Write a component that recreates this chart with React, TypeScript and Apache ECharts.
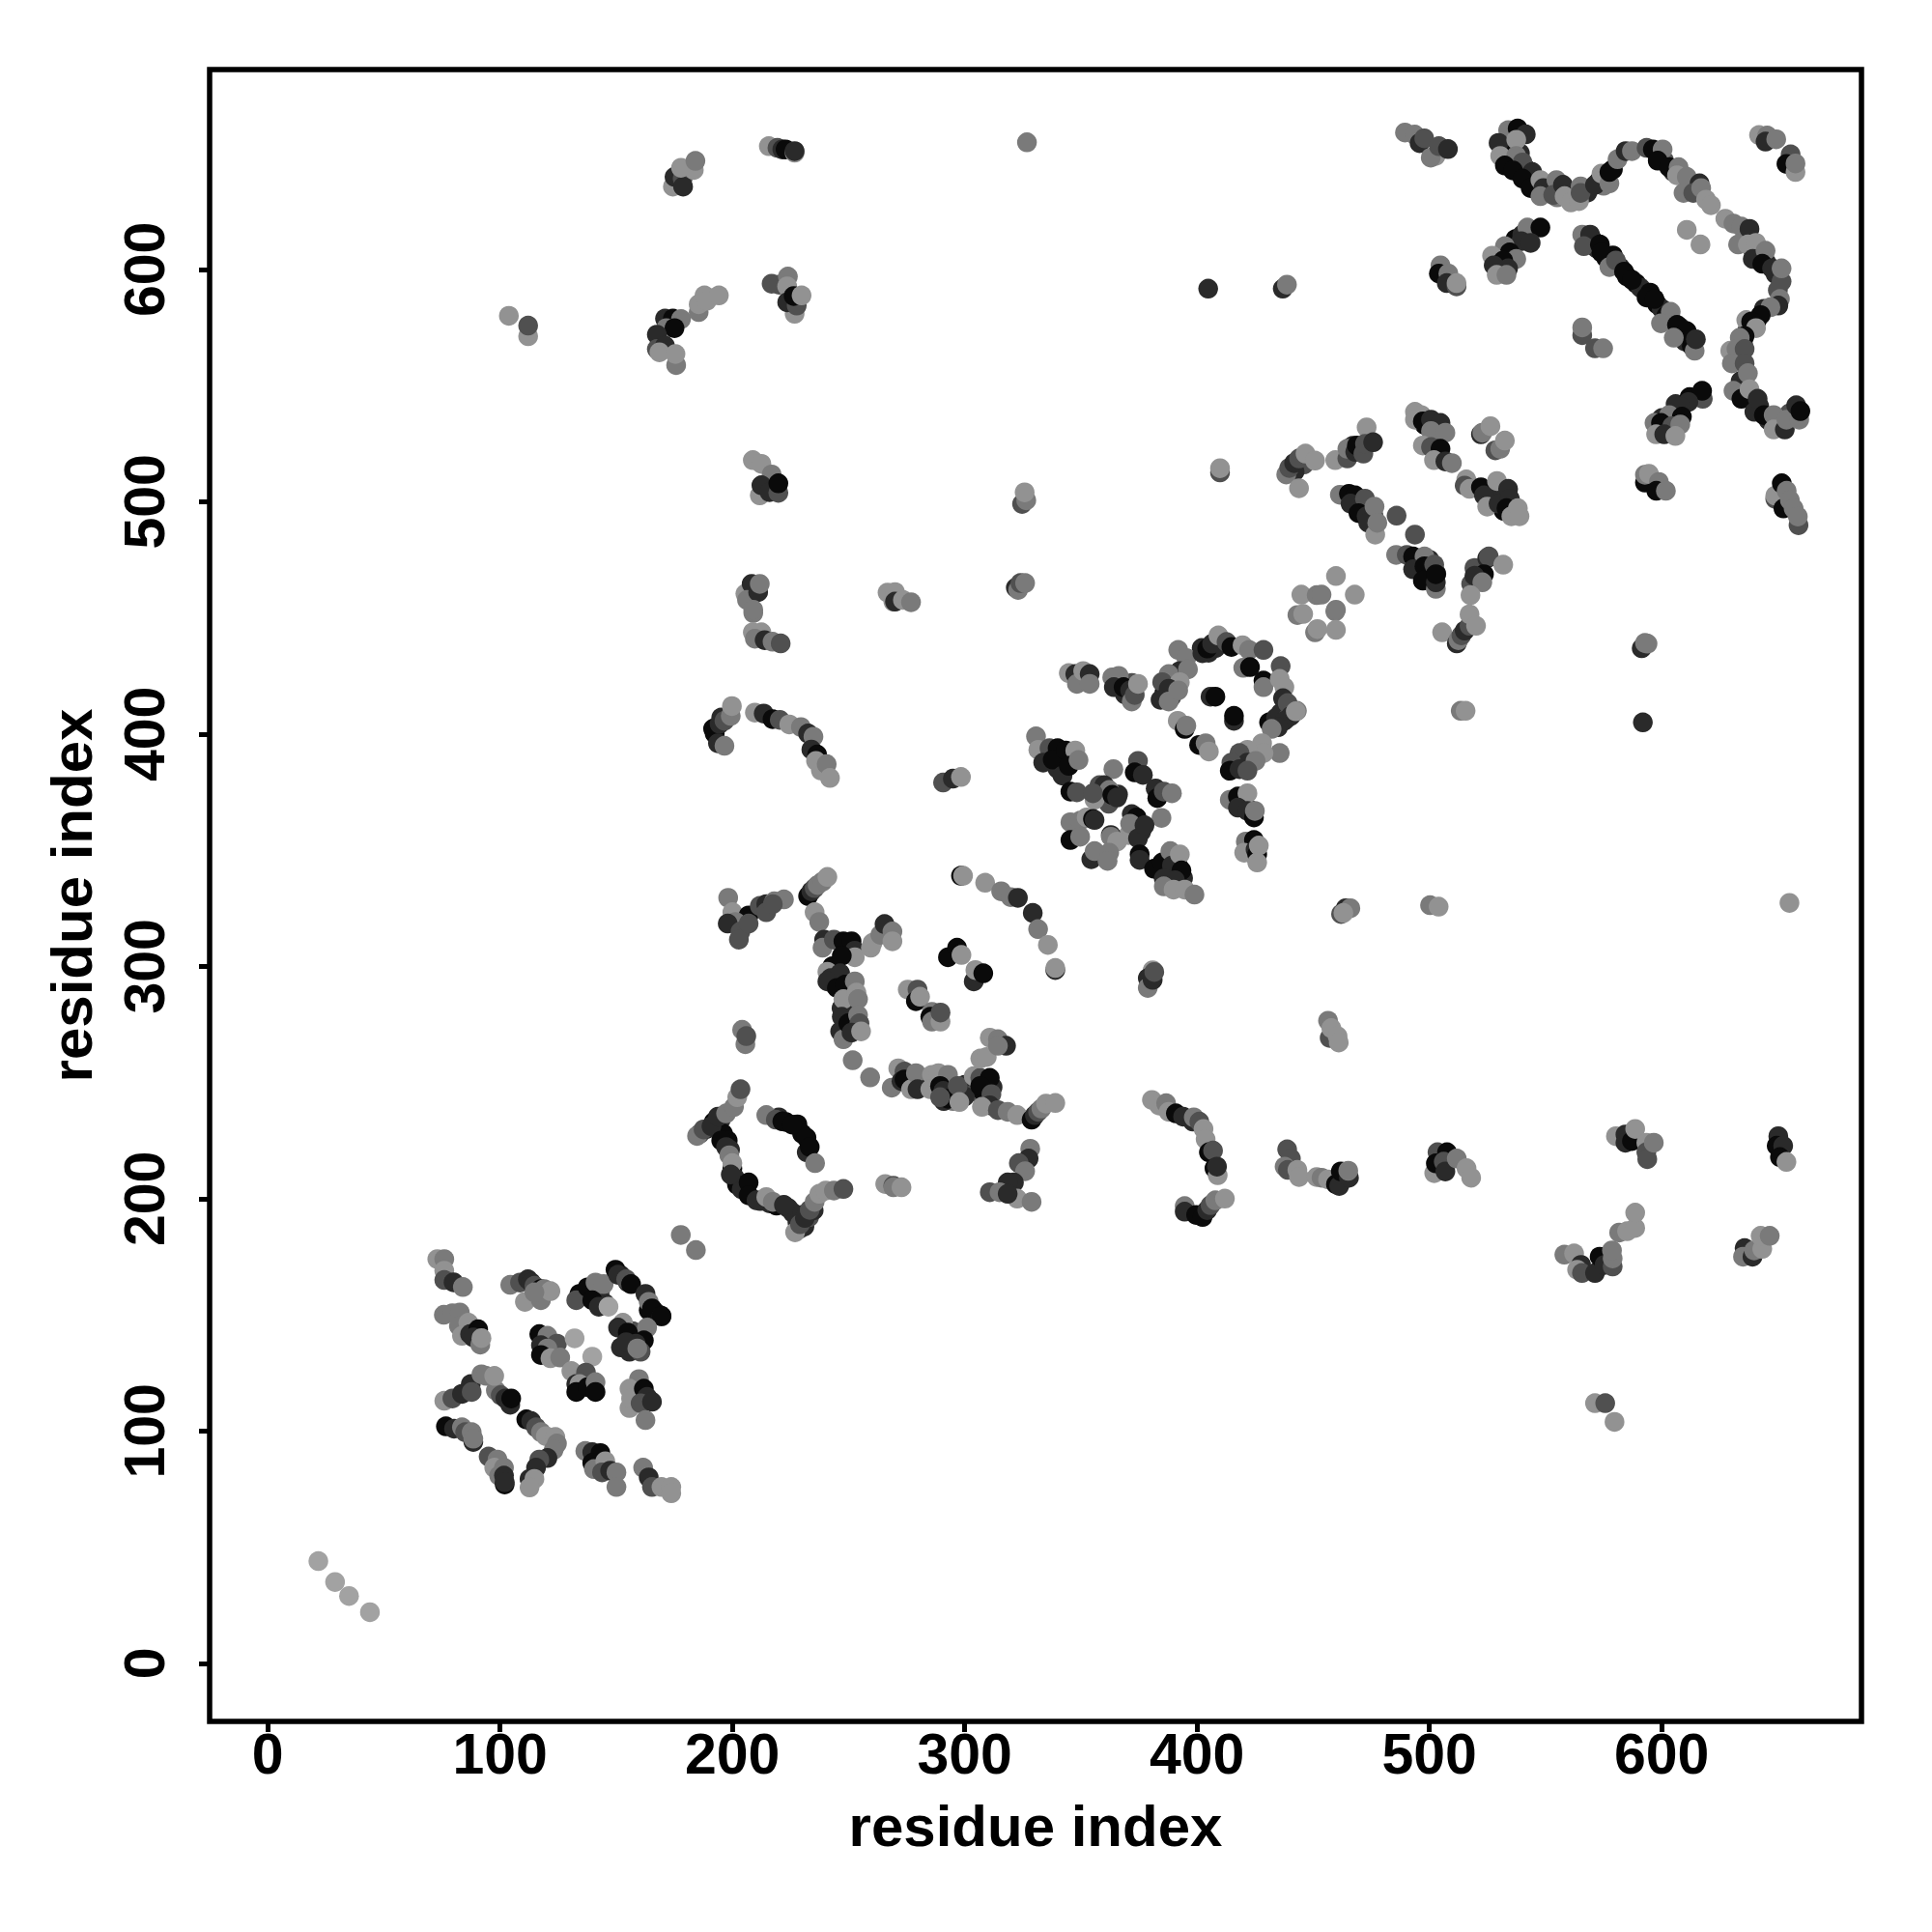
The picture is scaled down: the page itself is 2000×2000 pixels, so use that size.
import React, { useEffect, useRef } from "react";
import * as echarts from "echarts";

type P = number[];
const tickValues = [0, 100, 200, 300, 400, 500, 600];
const axisTitle = "residue index";
const grays = ["#0a0a0a", "#2a2a2a", "#505050", "#7a7a7a", "#929292", "#a2a2a2"];

const fillChains: P[] = [[570,613,0],[572,609,1],[576,605,0],[579,606,0],[582,601,1],[585,597,0],[589,594,0],[591,592,1],[595,590,0],[598,585,0],[600,583,1],[602,580,0],[604,578,0],[608,575,1],[612,570,0],[610,569,1],[613,567,0],
[535,652,0],[539,650,1],[541,644,0],[543,640,1],[546,637,2],[551,634,2],[555,631,3],[562,633,4],[568,633,1],[573,638,0],[575,636,3],[579,643,0],[598,650,1],[601,647,2],[605,642,1],[612,636,2],[615,634,3],
[636,613,2],[639,609,1],[642,606,0],[645,603,1],[649,598,1],[650,591,2],[644,583,1],[641,578,0],[637,574,1],[635,568,1],[632,562,2],[634,552,1],[636,546,0],[639,544,0],[642,541,1],[646,535,1],[650,534,1],[655,538,2],[658,537,1],
[186,228,2],[189,230,1],[192,233,0],[195,234,1],[196,228,0],[198,225,0],[199,221,1],[200,213,0],[201,209,1],[202,206,0],[204,204,1],[212,199,1],[216,198,1],[219,197,0],[224,196,1],[226,194,1],[228,190,1],[229,187,2],[231,188,1],[233,192,2],[235,195,1],[230,193,1],[223,233,0],[228,232,0],[230,228,0],[232,220,1],[220,235,1],
[243,300,0],[245,296,1],[247,293,0],[244,292,2],[247,282,1],[249,281,1],[250,273,0],[252,277,2],
[275,250,1],[277,252,0],[280,250,2],[283,249,1],[286,250,1],[292,250,1],[295,246,1],[300,249,1],[305,246,2],[308,246,0],[312,248,1],[300,244,1],[295,242,3],[291,242,1],
[136,158,1],[139,159,0],[143,160,2],[145,155,1],[152,167,1],[155,164,1],[164,152,0],[167,151,1],[156,140,0],[158,135,1],[152,136,1],[159,140,1],[157,143,2],
[336,391,0],[341,390,0],[346,390,1],[340,385,1],[343,388,2],[358,378,2],[361,373,1],[366,374,1],[362,370,2],[386,342,1],[390,340,0],[391,345,1],[394,338,1],[387,336,1],[392,343,0],[385,340,1],[373,362,1],[376,358,1],
[402,437,1],[405,435,1],[408,437,1],[431,405,0],[434,407,1],[436,409,1],[439,407,2],[443,410,3],[416,386,0],[419,386,1],[416,372,1],[419,369,0],[422,368,1],[424,352,0],[423,349,1],[372,422,2],[369,417,1],[386,418,0],[389,421,1],[389,416,2],
[467,500,0],[470,498,1],[472,495,0],[476,494,2],[495,474,0],[499,470,1],[501,467,0],[503,469,1],[500,475,1],[498,533,0],[503,533,1],[502,528,2],[525,505,1],[531,503,1],[533,499,1],[532,496,0],[535,500,1],[446,516,2],[442,513,1],[467,524,1],[470,522,0],
[531,606,1],[535,609,1],[537,613,0],[540,615,1],[606,542,1],[612,545,0],[600,536,1],[603,530,2],[600,531,1]];
const tail: P[] = [[21.8,44,5],[29,35,5],[35,29,5],[44,22,5]];
const blockA: P[] = [[73,174,4],[76,174,3],[76,169,4],[76,165,2],[80,164,1],[84,162,3],
[75.8,150,3],[79.5,150.7,3],[82.7,151,3],[82.3,145.2,3],[86.4,146.6,4],[83.6,141,4],[87.1,141.7,1],[90.6,143.8,0],[88.5,140.3,1],[91.5,137.2,3],[92,140,4],
[76,113,4],[79.5,114,2],[83.6,116,1],[87.4,120.2,1],[87.8,116.8,2],[92,124.4,3],[94,123.7,3],[98.2,117.5,3],[97.5,123.7,4],[100.3,115.4,2],[102.3,114,1],[104.4,111.3,1],[104.8,114,0],
[76.7,102,0],[80.2,101,1],[83.6,101.6,3],[85,99.5,2],[88.5,95.3,1],[87.8,99.5,3],[88.5,96.7,3],
[95.1,89,2],[98.9,87.7,3],[97.5,84.2,4],[101.7,84.2,3],[99.6,80.8,3],[102,77,0],[101.7,80.8,1],[102,78,1]];
const blockB: P[] = [[111.3,105,0],[113.4,104.3,1],[115.5,101.6,2],[117.6,99.5,3],[119.7,97.8,4],[123.8,97.4,4],[124.5,94.6,3],[123.1,91.9,3],[120.4,88.4,1],[116.9,87.7,2],[115.5,84.2,1],[112.7,79.4,1],[114.8,79.4,4],[112.7,75.7,4],
[136.7,91.4,3],[139.7,90.9,1],[143.2,90.5,0],[139.7,86.3,0],[140.4,83.6,3],[145.3,87,4],[143.9,82.2,2],[147.4,82.9,1],[150.1,82.2,3],[150.1,75.9,3],
[161.6,84.2,3],[164,80,1],[165.4,75.9,2],[169.5,75.9,4],[173.7,75.9,4],[173.7,73.2,4]];
const blockC: P[] = [[104.4,162.9,3],[108.6,163.9,2],[112,165.3,1],[113.4,163.9,1],[110.7,155.6,4],[114.8,162.5,2],[117.6,161.1,0],[117.6,156.3,3],[119,161.1,3],[121.7,160.2,4],[114.8,159.7,3],
[134.2,159,0],[132.8,156.3,2],[137.7,161.8,0],[141.1,163.9,3],[139.7,156.3,0],[144.6,163.2,3],[142.5,153.5,1],[146.7,153.5,5],
[149.7,169.4,0],[150.8,167.3,1],[154.3,165.3,2],[156.4,163.2,0],[162.6,159,1],[164,155.6,3],[165.4,152.8,0],[169.5,149.3,1],[169.5,149.6,0],
[152.9,146.6,4],[150.8,144.5,1],[155,142.4,0],[163.3,144.5,3],[161.9,139,0],[158.4,137.6,1],[155.7,134.1,1],[160.5,134.1,2],[154.3,138.2,1],[159.1,135.5,3]];
const blockD: P[] = [[116.9,141.7,0],[120.4,141,3],[124.5,137.6,2],[117.6,136.9,1],[120.4,135.5,3],[117.6,132.7,0],[121.7,131.3,4],[125.9,131.6,3],[132.1,139.9,5],[139.7,132,5],
[130.7,125.8,4],[132.8,120.2,1],[137,125.1,2],[134.2,120.2,4],[132.8,116.8,0],[137.7,118.9,0],[141.1,121,3],[141.1,116.8,0],
[159.8,122.3,3],[155.7,118.2,4],[155.7,109.9,4],[156.4,114,4],[161.9,118.2,0],[163.3,114.7,1],[160.5,111.9,2],[165.4,112.6,1],[162.6,104.7,3],
[177.8,184.4,3],[184.3,177.9,3]];
const ringE: P[] = [[184.8,227,3],[187.6,229.8,2],[191,231.2,1],[193.8,235.3,1],[197.3,236.7,3],[200.7,239.5,3],[202.1,243.7,4],[203.5,247.1,2],[195.2,225,0],[197.3,222.2,1],[198.7,218.7,3],[200,215.3,4],[207,207,0],[199.3,210.4,1],
[207,201.4,0],[210.4,199.3,1],[214.6,200.7,4],[217.4,198.6,3],[222.2,197.3,1],[227,185.5,4],[229.1,189,2],[231.2,191.7,1],[233.3,195.2,2],[235.4,198.6,3],[237.4,202.1,4],[240.2,203.5,4],[243.7,203.5,3],[247.8,204.2,2],
[214.6,236,3],[218.7,234,2],[221.5,233.3,0],[225.7,231.9,0],[231.9,226.3,0],[233.3,222.2,0],[235.6,215.3,3]];
const blockF: P[] = [[198.2,329.5,3],[200,323.3,4],[207,321.9,0],[201.4,319.1,3],[198,318.4,1],[203.5,315,2],[202.8,311.5,2],[207,318.4,2],[211.8,326,2],[214.6,326.8,1],[214.6,323.3,2],[218,328,3],[222.2,328.8,3],[217.4,326.8,2],
[232.6,330.2,0],[234,332.3,1],[235.4,333.7,2],[236.7,335,3],[238.8,336.5,3],[240.9,338.5,4],
[235.4,323.3,4],[237.4,319.1,3],[239.5,311.5,1],[238.8,308,3],[243.7,311.5,2],[247.8,310.8,0],[251.3,310.8,0],[252.7,306.7,1],[252.7,303.9,4],[247.1,304.6,0],
[240.9,297.7,4],[242.3,294.9,1],[246.4,297,1],[240.9,293.5,1],[245,290.7,0],[248.5,292.1,0],[252.7,293.5,3],[247.8,285.9,4],[253.4,288.7,4],[254.1,285.9,3],
[247.1,278.3,1],[246.4,272,1],[247.8,268.6,3],[249.9,275.5,0],[254.1,279,3],[254.7,275.5,2],[251.3,271.5,1],[255.4,272,4],
[259.6,308,4],[260.3,310.1,4],[263.7,313.6,3],[265.5,318.2,1],[268.9,315,3],[268.9,310.8,4],
[251.8,259.6,3],[259.3,252.2,3],[204.2,272.7,3],[205.6,266.5,3],[206,270,2]];
const bandG: P[] = [[268.6,247.8,3],[271.4,256.1,4],[274.1,254.7,2],[272.8,250.6,1],[274.1,251.3,0],[276.9,247.1,4],[279,254,3],[279.7,247.1,1],[285.9,253.3,4],[288.7,254,4],[292.8,253.3,3],[285.2,247.1,4],[289.4,248.5,0],[290.8,246.4,1],[292.8,243,0],[289.4,243.7,2],[297,248.5,2],[297.7,241.6,4],
[303.9,252.7,4],[306.7,252,2],[310.8,252,0],[306.7,248.5,0],[311.5,245,2],[310.8,240.2,1],[307.4,239.5,4],[314.3,238.1,2],[318.5,237.4,3],[322.6,236,4],
[310.8,269.3,4],[314.3,268.6,3],[317.8,265.8,1],[306.7,260.3,4],[309.5,261,4],[314.3,265.8,3],
[328.8,234,0],[330.2,236,1],[331.6,237.4,2],[333,238.8,3],[335,240.9,4],[339,241.2,4],
[328.2,221.5,3],[327.5,217.3,1],[323.3,215.3,2],[326,211.8,3],[321.2,207,1],[318.5,207,1],[310.8,202.8,2],[315,202.8,3],[322.6,200,4],[328.8,198.6,3],[318.5,202.1,1],
[265.8,206.3,4],[269.3,205.6,2],[269.3,204.9,3],[272.8,204.9,4]];
const arcH: P[] = [[298.4,339,0],[299.3,339,4],[308.8,336,4],[315.7,332.3,3],[319.8,329.8,3],[322.9,329.5,1],[329.3,323,1],[331.6,316,3],[335.8,309.2,4],[339,298.4,1],[339,299.3,4],
[292.8,303.9,0],[296.7,308,0],[298.6,304.9,4],[303.9,293.5,1],[304.6,298.4,4],[308,297,0],
[275.5,290,4],[279.7,290,2],[279,285,0],[280.8,286.9,4],[285.9,280.4,3],[285.2,278.3,0],[285.9,276.2,3],[289.6,276.2,4],[289.6,280.1,2]];
const blockI: P[] = [[330.7,399,3],[331.7,393.2,4],[336.5,393.9,2],[340,393.9,0],[333.8,387.7,1],[337.9,389,0],[343.5,392.9,0],[347.6,392.9,4],[342.1,382.1,1],[344.8,386.3,0],[349,388.8,3],
[345.5,375.2,0],[348.3,374.9,2],[364,384.9,3],[374.6,388.4,2],[373.2,383.5,0],[376.7,382.4,1],
[358.7,375.2,0],[360.1,378,1],[362.2,375.9,3],[355.9,371.7,4],[355.2,374.5,2],[363.5,373.8,0],[365.6,372.7,1],
[382.2,376.6,1],[382.9,372.4,0],[385.7,375.2,2],[389.2,374.5,3],[384.7,363.9,3],
[345.5,362,3],[349.7,362.7,3],[352.5,364.1,4],[355.2,363.4,0],[355.9,363,1],
[371.9,365.5,1],[374,364.1,0],[370.5,356.5,4],[371.2,361.4,3],[374.6,355.1,1],[377.4,360.7,1],
[345.5,354.4,0],[349.7,355.8,3],[362.9,356.5,1],[362.9,355.8,3],[365.6,353.7,4],
[354.5,346.1,1],[355.9,349.6,3],[362.2,348.9,3],[361.5,345.4,3],[375.3,348.2,0],[375.3,345.8,1],
[381.5,342,0],[385,344.7,0],[388.5,349.6,3],[389.2,343.4,1],[392.6,348.2,4],[385.7,337.8,1],[393.3,341.3,0],[390.5,337.1,1],[385.7,334.4,3],[389.9,333,4],[394.7,333,4],[398.9,330.9,3]];
const ringJ: P[] = [[344.8,426.2,4],[347.6,425.8,1],[348.3,421.6,3],[351,427.1,4],[353.8,425.8,1],[353.8,421.6,3],
[363.5,424.4,3],[366.3,425,3],[364.2,420.2,1],[368.4,420.2,0],[371.2,418.8,1],[371.9,414,3],[373.2,416.8,2],[374.6,421.6,4],
[391.9,436.2,3],[395.4,432.7,3],[392.6,427.1,1],[396.1,427.8,3],[387.8,425.8,3],[385,422.3,2],[392.6,422.3,4],[387.8,419.5,1],[384.3,414.7,1],[387.8,414,3],[391.9,418.8,3],
[402.3,434.8,1],[404.4,436.8,0],[406.5,438.9,1],[409.2,442.4,4],[412.7,439.6,2],[414.8,437.5,0],[419.6,438.2,4],[422.4,436.2,3],[428.6,436.2,2],[419.9,428.5,3],[422.8,428.8,0],[436,429.2,2],
[428.6,423,0],[428.6,420.2,3],[435.6,423.7,4],[437.6,420.2,4],[437,415.4,1],[439,413.3,2],[440.4,407.8,1],[437.6,405.7,1],[434.9,402.9,1],[432.1,402.2,3],[442.5,409.8,4],
[435.6,391.8,3],[428,396,4],[428.6,391.8,4],[421.7,393.2,4],[418.3,391.8,2],[421.7,387.7,1],[425.2,388.4,3],[414.8,387.7,2],[414.1,384.2,0],[418.3,384.9,1],[421.7,384.2,2],
[405.8,416.1,1],[407.9,416.1,0],[415.9,405.7,1],[415.9,407.8,0],
[391.7,405.7,4],[394.7,402.2,0],[395.4,403.6,3],[400.9,395.3,0],[403.7,396,3],[405.1,392.5,4],
[414.1,371.7,3],[417.6,373.1,0],[421.7,374.5,4],[417.6,368.3,1],[421.7,366.9,1],[424.5,364.1,0],[424.9,366.9,3],
[421,353.7,3],[424.5,354.4,0],[420.3,348.9,4],[425.2,350.3,1],[425.9,348.2,0],[426.6,352,4],[425.9,344.7,4]];
const cross: P[] = [[380.6,242.5,4],[383.7,240.1,4],[386.7,241.1,3],[387.8,237.4,4],[390.9,236.7,0],[394,235.3,1],[398.2,233.2,1],[398.6,235,3],[401,233.2,2],[402.8,230,4],[403.7,225.6,4],[405.1,220,0],[406.9,220.7,2],[407.5,213.1,0],[408.9,210.1,4],[408.6,213.8,1],
[394.7,196.8,3],[394.7,194.4,1],[399.6,193,0],[402.4,192.1,0],[404.4,195.1,1],[405.8,197.2,2],[407.9,199.3,3],[412,200,4],
[438.8,221.2,2],[440.4,217.3,2],[437.7,213.8,3],[439.1,212.4,2],[443.2,212.4,4],[443.9,209.3,4],
[451.5,209.3,4],[453.6,209,3],[456.4,208.3,4],[459.8,206.2,0],[461.2,205.5,1],[461.9,211.7,0],[465.4,209,1],[465.1,212,3],
[503.5,220,2],[507.6,220,0],[502.1,211,4],[502.8,215.2,0],[506.2,215.9,2],[506.9,211.7,1],[511.8,217.3,3],[516,213.1,4],[518,209,4],
[380.9,298.3,4],[378.8,294.9,1],[378.8,290.7,3],[380.9,294.2,1],[381.6,297.6,2],
[456.4,276.6,3],[457.1,269.2,2],[457.8,273.4,4],[460.5,269.9,4],[461,267.2,4],
[500.3,326.3,3],[504,325.7,4],[462,322.5,2],[464,325,1],[466,325,3],[463,323,4],[655,327.3,4]];
const lowerRight: P[] = [[580.3,226.9,4],[584.4,227.6,1],[584.4,224.1,1],[587.2,224.8,0],[588.6,230,4],[593.4,224.1,4],[593.4,220,2],[593.8,217,2],[596.6,224.1,3],
[650.2,226.9,1],[649.5,222.8,0],[652.3,222.8,1],[650.9,217.9,0],[653.7,215.8,4],
[558.1,175.9,3],[562.3,176.4,4],[565.3,171.5,1],[563.6,169.4,4],[565.7,168,2],[571.3,168,1],[573.3,175,0],[575.4,171.5,1],[578.9,170.8,2],[578.9,174.3,3],[578.6,177.7,3],
[581.7,185.4,3],[585.1,186,4],[588.6,187.4,4],[588.6,194,4],
[635.7,178.7,1],[635,175,3],[639.1,175,1],[639.8,177.7,3],[643.3,178.4,4],[642.6,184,4],[646.5,184,3],
[571.3,112,4],[575.7,112,2],[579.7,103.9,4]];
const blockK: P[] = [[438.4,511.7,3],[439.7,514.5,2],[441.8,516.6,1],[443.9,518.6,2],[446.7,520.7,4],[443.9,505.8,4],[450.8,517.7,4],
[459.5,517.9,4],[464.7,518.6,2],[464.7,522.8,3],[468.1,521.4,1],[468.8,524.2,0],[471.6,520.7,2],[473,532,4],[472.3,524.9,2],[475.8,525.6,1],
[461.5,503,3],[465.4,503.4,0],[468.1,502.7,0],[466.1,499.2,1],[472.3,501.3,2],[469.5,495.1,0],[473,493.7,1],[473.7,490.9,1],[476.4,497.9,3],[476.7,485.8,4],[477.6,490.9,3],
[485.9,494,2],[493.8,485.8,2],
[485.7,477.1,3],[490.3,477.1,2],[493,476.4,0],[497.9,476.4,3],[493,470.9,1],[497.9,472.2,0],[497.2,466,0],[502.1,472.9,2],[502.8,462.5,3],[502.8,465.3,1],[502.8,468.8,0],
[519.4,471.5,2],[524.9,475.7,1],[525.6,476.4,2],[531.8,472.9,4],[523.5,468.8,0],[518,464.6,2],[519.4,468.1,1],[522.8,465.3,3],[517.7,459.8,4],
[505.5,443.8,4],[511.8,439,1],[512.5,440.4,3],[513.8,442.5,2],[515.2,444.5,1],[517.3,446.6,2],[517.3,451.5,4],[520.1,446.6,4],
[459.8,468,4],[444.9,460,4],[451.5,459.8,3],[453.6,460,3],[467.9,460,4],[443.2,451.2,3],[445.7,451.7,4],[459.5,452.8,3],[459.8,453.5,3],[450.8,443.8,3],[451.8,445.2,4],[459.8,444.8,4],
[493.8,538.7,4],[496.5,537.3,4],[493.8,535.3,4],[497.2,534.6,0],[500.7,535.3,1],[504.8,533.9,1],[500.7,530.4,3],[506.9,529.7,3],[497.2,524.2,4],[500.7,523.5,2],[504.8,522.8,0],[502,517.9,4],[506.9,517.3,1],[509.7,516.6,3],
[522.2,529,1],[522.8,529.7,3],[526.3,532.5,4],[528.4,522.1,2],[530.5,522.8,3],[532.5,526.3,4],
[515.9,509.6,4],[515.2,506.9,2],[517.3,505.5,4],[522.2,506.2,0],[523.5,502.7,1],[524.9,497.9,4],[529.1,508.9,4],[529.8,499.2,1],[533.9,505.5,1],[534.6,501.3,1],[533.2,497.2,0],[535.3,493.7,4],[538.1,497.2,4],[538.8,493.7,4]];
const upperMid: P[] = [[326.8,654.7,3],[404.8,591.7,1],[436.9,591.7,1],[438.7,593.4,3],
[489.5,658.9,3],[493.7,658,3],[495.8,654.3,1],[497.8,656.4,2],[502.7,648.8,4],[500.6,648.1,3],[504.1,653,2],[508,651.8,1],
[504.8,601.7,3],[504.1,598.2,0],[508.2,598.2,3],[507.5,594.1,1],[511.7,592.7,2],[511.7,594.1,4],
[409.9,512.6,2],[409.9,514.4,4],[324.7,499,2],[326.5,500.6,3],[325.8,504,4],[322,463,1],[323,462,3],[324,465,2],[326,465,3],
[513.5,410,3],[515.6,410,4],
[592.8,508.2,0],[592.8,511.6,3],[594.5,512,4],[598.8,508.5,3],[597.7,504.7,0],[601.8,504.7,3],
[648.9,501.2,2],[648.9,502.6,4],[651.7,507.9,0],[652.4,497.1,0],[653.8,504.7,3],[655.2,500.6,3],[656.8,497.1,3],[658.9,489.9,2],[658.6,493.6,3],
[591.4,436.9,1],[592.8,439.2,3],[593.9,438.9,3],[591.9,405,1]];
const upperLeft: P[] = [[103.8,580,4],[112.1,571.2,4],[112.1,575.8,2],
[174.4,635.6,4],[175.1,639.8,1],[178.6,639.1,2],[178.8,635.6,1],[177.9,643.7,4],[183.4,642.8,4],[184.1,646.7,3],
[215.7,653,4],[219.4,652.3,2],[221.5,651.6,1],[222.9,651.6,0],[226.8,650.2,4],[226.8,650.9,1],
[216.9,593.8,2],[220.1,593.4,2],[223.9,596.9,3],[223.6,592.7,4],[226.8,580.9,4],[223.6,585.8,1],[227.7,584.4,2],[226.4,588.5,0],[229.8,588.8,4],
[185.5,581.6,3],[185.5,585,4],[188,588.8,4],[189,586.5,4],[194.2,588.8,4],[171,578.8,1],[174.4,578.8,0],[177.9,578.6,3],[171.6,574.7,3],[175.1,574.7,0],[167.5,571.9,1],[167.5,565.7,2],[171,567.1,1],[168.6,564.3,4],[175.8,558.8,3],[175.5,563.6,4],
[208.8,517.9,4],[212.5,516.3,4],[216.9,511.7,3],[211.8,502.7,4],[212.5,507.1,1],[216,504.1,1],[219.8,503.8,2],[219.8,507.9,0],
[205.6,460.4,4],[208.3,464.6,1],[206.3,457.7,3],[211.1,461.1,1],[211.8,464.6,3],[209,452.1,3],[209,453.5,3],
[208.8,443.8,4],[212.5,443.8,4],[209.7,441,3],[213.9,440.4,1],[217.3,439.7,3],[220.8,439,2],
[266.8,460.9,4],[270,461.1,4],[269.3,457,4],[270,457,1],[273.4,457.7,4],[276.9,456.7,3],
[290.7,379.1,2],[294.9,380.8,1],[298.4,381.5,4],
[191.7,402.3,0],[192.4,400.2,0],[193.8,396,1],[194.5,404.4,1],[195.2,407.1,1],[196.6,405.7,2],[199.3,407.8,3],[199.8,412,4],[196.6,394.9,3],
[209.7,409.2,4],[213.5,408.8,1],[217.3,406.4,0],[220.4,406.1,2],[224.5,404.1,4],[229.5,403,3],[232.6,400.2,1],[234.9,398.8,3],[234,393.3,1],[236.5,391.2,0],[236,388.4,4],[238.1,384.3,4],[240.6,387,3],[242,381.1,4]];
const topLeftCurve: P[] = [[533.9,659.9,3],[538,660.6,0],[541.5,658.1,1],[529.8,654.4,1],[537.4,655.8,4],[530.5,648.8,4],[537.4,648.8,3],[532.5,644.7,0],[540.1,646,2],[536,642.6,0],[544.3,641.9,1],[540.1,639.1,0],[543.6,635,0],[547.8,638.4,4],[549.1,635,1],[547.8,631.5,3],[554.7,638.4,3],[553.3,632,2],[557.5,636.4,1],[558.2,631.5,4],[560.9,628.8,4],[565.1,635.7,3],[564.4,629.4,4],[565.1,632.9,2],[571.3,636.4,1],[574.1,641.2,4],[577.5,637,3],[577.5,641.9,0],[581,647.4,3],[584.5,650.9,1],[587.2,650.9,3],
[593.5,652.3,2],[596.2,651.6,0],[600.4,651.6,3],[598.3,646.8,0],[603.2,644,0],[607.3,644,3],[606.6,640.5,4],[610.8,639.8,3],[609.4,632.9,3],[616.3,637,1],[613.6,632.9,2],[617,635,3],[619.1,630,4],[621.2,627.6,4]];
const rightCurve: P[] = [[627.4,621.8,4],[630.9,619.7,3],[634.3,618.4,3],[632.9,610.7,3],[637.8,617.4,1],[637.1,610.7,4],[640.6,611.4,4],[639.2,604.5,1],[644.7,608,3],[643.3,602.4,0],[647.5,600.4,1],[651.6,594.8,2],[651.6,600.4,3],
[650.9,587.2,3],[650.2,584.4,1],[646.8,583.7,3],[642.6,580.3,0],[636.4,578.2,4],[638.5,577.5,0],[640.6,574.7,4],[635.7,571.3,0],[633.6,570.6,3],[629.5,565,4],[632.2,565.7,3],[635.7,565.7,2],
[630.2,559.5,3],[635.7,559.5,2],[637.1,555.3,3],[630.9,547.7,3],[634.3,544.3,0],[637.8,548.4,4],[639.9,538.7,1],[641.3,544.3,1],[644,537.3,0],[648.2,537.3,3],[648.2,531.1,4],[653,531.1,1],[653.7,535.3,3],[657.9,541.5,1],[659.2,535.3,3],[659.7,539,0]];
const innerBand: P[] = [[542.2,618,3],[547.8,618,0],[539.5,612.1,1],[543.6,611.4,1],[532.5,610,3],[534.6,607.3,0],[537.4,604.5,3],[527,605.9,4],[531.8,603.8,0],[527.7,601.7,1],[533.9,600.4,1],[529,597.6,4],[533.2,597.6,3],
[565.8,614.9,3],[569.2,614.9,1],[566.5,610,2],[573.4,610.7,0],[574.1,607.3,0],[577.5,601,3],[580.3,603.8,2],[583.8,599,0],[587.2,595.5,0],[593.5,587.9,0],[596.9,587.2,0],[603.9,581.7,3],[599.7,576.8,3],[606.6,576.1,0],[610.8,573.4,0],[605.2,570.6,3],[614.2,565,3],[614.7,569.9,1],
[565.8,571.7,2],[565.8,575,3],[571.3,566,2],[574.8,566,3],[610.8,617,4],[616.7,610.7,4],
[641.9,657.8,4],[645.4,657.6,3],[644.7,655,1],[649.3,656,3],[655.5,649.5,2],[653.7,645.4,0],[657.6,641.9,4],[657.6,645.6,3],
[617.7,544.3,2],[617.4,547.7,0],[611.5,542.9,1],[608,540.8,1],[603.2,537.3,3],[608.7,536.6,0],[596.9,533.9,3],[599.7,533.9,0],[604.5,532.5,2],[608,533.2,3],[597.6,529,4],[601.1,529,1],[605.9,528.3,4]];

const points: P[] = [...fillChains, ...tail, ...blockA, ...blockB, ...blockC, ...blockD, ...ringE, ...blockF, ...bandG, ...arcH, ...blockI, ...ringJ, ...cross, ...lowerRight, ...blockK, ...upperMid, ...upperLeft, ...topLeftCurve, ...rightCurve, ...innerBand];

const FONT = "'Liberation Sans', Arial, sans-serif";

export default function App() {
  const ref = useRef<HTMLDivElement>(null);
  useEffect(() => {
    const chart = echarts.init(ref.current!, undefined, { renderer: "svg" });
    const axisCommon = {
      type: "value" as const,
      min: -25,
      max: 686,
      name: axisTitle,
      nameLocation: "middle" as const,
      nameTextStyle: { fontFamily: FONT, fontWeight: "bold" as const, fontSize: 60, color: "#000" },
      axisLine: { show: false, onZero: false },
      splitLine: { show: false },
      axisTick: { show: true, length: 11, lineStyle: { color: "#000", width: 5 }, customValues: tickValues },
    };
    chart.setOption({
      animation: false,
      backgroundColor: "#fff",
      grid: { left: 217, top: 72, width: 1710, height: 1710, show: true, borderColor: "#000", borderWidth: 5.5, backgroundColor: "transparent" },
      xAxis: {
        ...axisCommon,
        nameGap: 78,
        axisLabel: { customValues: tickValues, fontFamily: FONT, fontWeight: "bold", fontSize: 59, color: "#000", margin: 4, hideOverlap: false, showMinLabel: true, showMaxLabel: true },
      },
      yAxis: {
        ...axisCommon,
        nameGap: 113,
        nameRotate: 90,
        axisLabel: { customValues: tickValues, rotate: 90, fontFamily: FONT, fontWeight: "bold", fontSize: 59, color: "#000", margin: 67, hideOverlap: false, align: "center", verticalAlign: "middle", showMinLabel: true, showMaxLabel: true },
      },
      series: [
        {
          type: "scatter",
          symbol: "circle",
          symbolSize: 20.5,
          data: points,
          itemStyle: { opacity: 1, color: (p: any) => grays[p.value[2]] },
          silent: true,
        },
      ],
    });
    return () => chart.dispose();
  }, []);
  return <div ref={ref} style={{ position: "absolute", left: 0, top: 0, width: 2000, height: 2000 }} />;
}
